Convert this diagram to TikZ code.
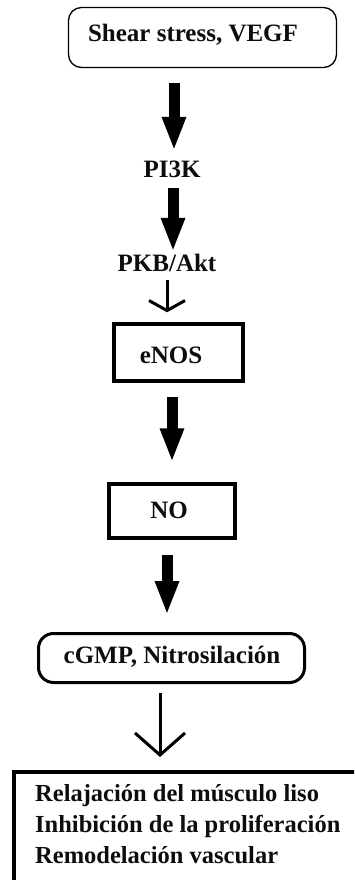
\documentclass[tikz,border=0pt]{standalone}
\usepackage{fontspec}
\setmainfont{Liberation Serif}
\usetikzlibrary{arrows.meta}
\begin{document}
\begin{tikzpicture}[x=1pt,y=-1pt,
  every node/.style={font=\fontsize{25pt}{30pt}\selectfont\bfseries, text=black!95},
  rbox/.style={draw, rounded corners=13pt, line width=1.3pt, inner sep=0},
  sbox/.style={draw, line width=3.5pt, inner sep=0},
  pillbox/.style={draw, rounded corners=15pt, line width=3pt, inner sep=0},
  lbl/.style={inner sep=0, text height=17pt, text depth=0pt, anchor=base},
  bigarrow/.style={line width=11pt, -{Triangle[length=34pt,width=22pt]}},
  thinarrow/.style={line width=3pt, -{Straight Barb[length=10pt,width=36pt]}},
  widearrow/.style={line width=3pt, -{Straight Barb[length=22pt,width=50pt]}}]

\useasboundingbox (0,0) rectangle (354,880);
\fill[white] (0,0) rectangle (354,880);
\clip (0,0) rectangle (354,880);

% boxes
\node[rbox, minimum width=268pt, minimum height=60pt] (shear) at (202.5,37.5) {};
\node[sbox, minimum width=129pt, minimum height=57pt] (enos) at (178.5,352.5) {};
\node[sbox, minimum width=126pt, minimum height=54pt] (no) at (172,511) {};
\node[pillbox, minimum width=266pt, minimum height=49pt] (cgmp) at (171.5,658) {};
\node[sbox, line width=4pt, minimum width=344pt, minimum height=116pt] (effects) at (186,830) {};

% labels
\node[lbl] (shearT) at (193,42) {Shear stress, VEGF};
\node[lbl] (pi3k) at (172,177) {PI3K};
\node[lbl] (pkb) at (167,271) {PKB/Akt};
\node[lbl] (enosT) at (171,363) {eNOS};
\node[lbl] (noT) at (169,518) {NO};
\node[lbl] (cgmpT) at (172,663) {cGMP, Nitrosilación};
\node[inner sep=0, align=left, anchor=north west,
      font=\fontsize{24.5pt}{31pt}\selectfont\bfseries] (effectsT) at (35,784)
  {Relajación del músculo liso\\Inhibición de la proliferación\\Remodelación vascular};

% connectors
\draw[bigarrow, shorten <=15pt, shorten >=9pt] ([xshift=-28.5pt]shear.south) -- ([xshift=2pt]pi3k.north);
\draw[bigarrow, shorten <=11pt, shorten >=2pt] ([xshift=1pt]pi3k.south) -- ([xshift=6pt]pkb.north);
\draw[thinarrow, shorten <=9pt, shorten >=10pt] (pkb.south) -- ([xshift=-11.5pt]enos.north);
\draw[bigarrow, shorten <=14pt, shorten >=20pt] ([xshift=-6.5pt]enos.south) -- (no.north);
\draw[bigarrow, shorten <=15pt, shorten >=17pt] ([xshift=-5pt]no.south) -- ([xshift=-4.5pt]cgmp.north);
\draw[widearrow, shorten <=9pt, shorten >=13pt] ([xshift=-11.5pt]cgmp.south) -- ([xshift=-26pt]effects.north);
\end{tikzpicture}
\end{document}
